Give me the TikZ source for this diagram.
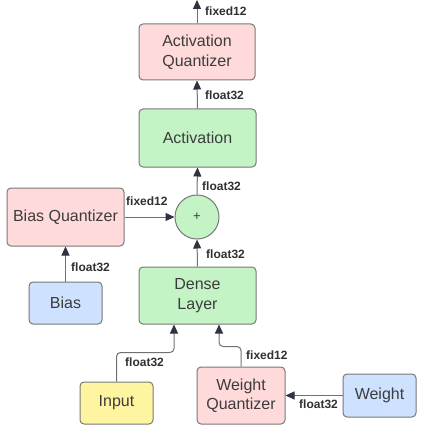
\documentclass[tikz,border=0pt]{standalone}
\usepackage{fontspec}
\setmainfont{Liberation Sans}
\usetikzlibrary{arrows.meta}
\definecolor{qpink}{RGB}{255,218,218}
\definecolor{qgreen}{RGB}{196,244,198}
\definecolor{qblue}{RGB}{206,225,255}
\definecolor{qyellow}{RGB}{255,245,160}
\definecolor{edge}{RGB}{120,120,120}
\definecolor{ink}{RGB}{60,60,60}
\definecolor{wire}{RGB}{110,114,120}
\definecolor{tip}{RGB}{45,52,64}
\tikzset{
  box/.style={draw=edge, line width=1pt, rounded corners=4pt, align=center,
    inner sep=0pt, text=ink, font=\fontsize{16}{19.5}\selectfont},
  tag/.style={anchor=west, inner sep=0pt, text=ink!80!black,
    font=\bfseries\fontsize{12}{14}\selectfont},
  wireto/.style={draw=wire, line width=1pt,
    -{Triangle[length=9pt,width=8pt,color=tip,fill=tip]}},
}
\begin{document}
\begin{tikzpicture}[x=1pt,y=-1pt]
\useasboundingbox (0,0) rectangle (423,425);

% blocks
\node[box, fill=qpink,  minimum width=116pt, minimum height=56pt] (aq)    at (197,52)    {Activation\\Quantizer};
\node[box, fill=qgreen, minimum width=117pt, minimum height=58pt] (act)   at (197.5,138) {Activation};
\node[box, fill=qpink,  minimum width=117pt, minimum height=58pt] (bq)    at (65.5,217)  {Bias Quantizer};
\node[draw=edge, line width=1pt, circle, fill=qgreen, minimum size=44pt, inner sep=0pt,
      text=ink, font=\fontsize{13}{15}\selectfont] (plus) at (197,217) {+};
\node[box, fill=qgreen, minimum width=117pt, minimum height=57pt] (dense) at (197.5,295.5) {Dense\\Layer};
\node[box, fill=qblue,  minimum width=73pt,  minimum height=42pt] (bias)  at (65.5,303)  {Bias};
\node[box, fill=qyellow,minimum width=73pt,  minimum height=42pt] (input) at (116.5,403) {Input};
\node[box, fill=qpink,  minimum width=88pt,  minimum height=57pt] (wq)    at (241,395.5) {Weight\\Quantizer};
\node[box, fill=qblue,  minimum width=73pt,  minimum height=43pt] (weight) at (379.5,395.5) {Weight};
\coordinate (out) at (197,0);

% connectors
\draw[wireto] (aq.north) -- (out);
\draw[wireto] (act.north) -- (aq.south);
\draw[wireto] (plus.north) -- (act.south);
\draw[wireto] (dense.north) -- (plus.south);
\draw[wireto] (bq.east) -- (plus.west);
\draw[wireto] (bias.north) -- (bq.south);
\draw[wireto, rounded corners=4pt] (input.north) -- ++(0,-29) -| ([xshift=-23.5pt]dense.south);
\draw[wireto, rounded corners=4pt] (wq.north) -- ++(0,-20) -| ([xshift=21.5pt]dense.south);
\draw[wireto] (weight.west) -- (wq.east);

% data type labels
\node[tag] (t1) at (205,11)  {fixed12};
\node[tag] (t2) at (205,95)  {float32};
\node[tag] (t3) at (202,186) {float32};
\node[tag] (t4) at (126,201) {fixed12};
\node[tag] (t5) at (206,254) {float32};
\node[tag] (t6) at (71,267)  {float32};
\node[tag] (t7) at (125,362) {float32};
\node[tag] (t8) at (246,355) {fixed12};
\node[tag] (t9) at (299,404) {float32};
\end{tikzpicture}
\end{document}
